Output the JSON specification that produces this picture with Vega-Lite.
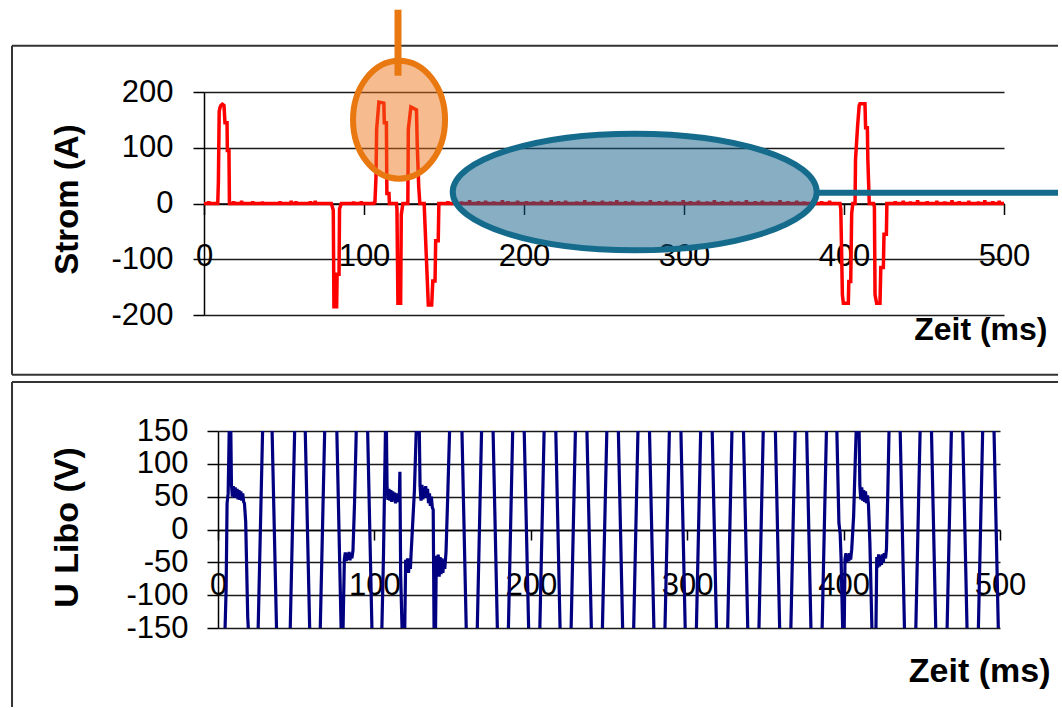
{
  "$schema": "https://vega.github.io/schema/vega-lite/v6.json",
  "background": "white",
  "padding": {"left": 11, "top": 6, "right": 0, "bottom": 0},
  "spacing": 5,
  "config": {
    "view": {"stroke": null},
    "font": "Liberation Sans",
    "axis": {
      "labelFont": "Liberation Sans",
      "titleFont": "Liberation Sans",
      "labelColor": "#000",
      "titleColor": "#000",
      "domainColor": "#000",
      "tickColor": "#000",
      "domainWidth": 1.5,
      "tickWidth": 1.5,
      "gridColor": "#1a1a1a",
      "gridWidth": 1.5,
      "gridOpacity": 1,
      "labelFlush": false,
      "labelOverlap": false,
      "labelExpr": "'' + datum.value"
    }
  },
  "datasets": {
    "strom": [
      {"t":0,"i":0},{"t":2.7,"i":0},{"t":3,"i":4},{"t":3.3,"i":0},{"t":8.6,"i":0},{"t":9,"i":40},{"t":9.5,"i":165},{"t":10,"i":172},{"t":10.6,"i":176},{"t":11.5,"i":178},{"t":12.5,"i":176},{"t":13.1,"i":145},{"t":14.4,"i":145},{"t":14.6,"i":95},{"t":15.6,"i":95},{"t":15.9,"i":0},
      {"t":18.2,"i":0},{"t":18.5,"i":4},{"t":18.8,"i":0},{"t":23.2,"i":0},{"t":23.5,"i":5},{"t":23.8,"i":0},{"t":30.2,"i":0},{"t":30.5,"i":4},{"t":30.8,"i":0},{"t":36.2,"i":0},{"t":36.5,"i":3},{"t":36.8,"i":0},{"t":47.2,"i":0},{"t":47.5,"i":4},{"t":47.8,"i":0},{"t":54.2,"i":0},{"t":54.5,"i":5},{"t":54.8,"i":0},{"t":57.2,"i":0},{"t":57.5,"i":4},{"t":57.8,"i":0},{"t":66.2,"i":0},{"t":66.5,"i":4},{"t":66.8,"i":0},{"t":69.2,"i":0},{"t":69.5,"i":5},{"t":69.8,"i":0},
      {"t":79.6,"i":0},{"t":80.8,"i":-12},{"t":81.2,"i":-185},{"t":82.9,"i":-185},{"t":83.2,"i":-127},{"t":84.4,"i":-127},{"t":84.7,"i":-10},{"t":85.8,"i":0},
      {"t":93.2,"i":0},{"t":93.5,"i":3},{"t":93.8,"i":0},{"t":98,"i":0},{"t":98.3,"i":4},{"t":98.6,"i":0},{"t":106.2,"i":0},{"t":106.5,"i":3},{"t":106.8,"i":0},
      {"t":107.5,"i":48},{"t":107.9,"i":133},{"t":109.3,"i":182},{"t":112.4,"i":180},{"t":112.7,"i":145},{"t":114,"i":145},{"t":114.3,"i":18},{"t":115.6,"i":18},{"t":115.9,"i":0},
      {"t":120.3,"i":0},{"t":120.6,"i":-10},{"t":121.2,"i":-179},{"t":122.9,"i":-179},{"t":123.3,"i":-20},{"t":124.3,"i":0},
      {"t":127.4,"i":0},{"t":127.7,"i":133},{"t":129.3,"i":173},{"t":132.8,"i":168},{"t":133.3,"i":103},{"t":134.2,"i":30},{"t":134.9,"i":0},
      {"t":137.6,"i":0},{"t":138.1,"i":-36},{"t":140.2,"i":-182},{"t":142.3,"i":-182},{"t":143,"i":-139},{"t":144.4,"i":-139},{"t":144.8,"i":-67},{"t":146.4,"i":-67},{"t":146.8,"i":0},
      {"t":152.2,"i":0},{"t":152.5,"i":4},{"t":152.8,"i":0},{"t":156.7,"i":0},{"t":157,"i":5},{"t":157.3,"i":0},{"t":160.7,"i":0},{"t":161,"i":3},{"t":161.3,"i":0},{"t":165.7,"i":0},{"t":166,"i":6},{"t":166.3,"i":0},{"t":171.2,"i":0},{"t":171.5,"i":4},{"t":171.8,"i":0},{"t":175.7,"i":0},{"t":176,"i":5},{"t":176.3,"i":0},{"t":180.7,"i":0},{"t":181,"i":3},{"t":181.3,"i":0},{"t":186.2,"i":0},{"t":186.5,"i":6},{"t":186.8,"i":0},{"t":189.7,"i":0},{"t":190,"i":4},{"t":190.3,"i":0},{"t":195.7,"i":0},{"t":196,"i":5},{"t":196.3,"i":0},
      {"t":201.2,"i":0},{"t":201.5,"i":4},{"t":201.8,"i":0},{"t":205.7,"i":0},{"t":206,"i":3},{"t":206.3,"i":0},{"t":210.7,"i":0},{"t":211,"i":5},{"t":211.3,"i":0},{"t":216.7,"i":0},{"t":217,"i":6},{"t":217.3,"i":0},{"t":221.2,"i":0},{"t":221.5,"i":4},{"t":221.8,"i":0},{"t":225.7,"i":0},{"t":226,"i":5},{"t":226.3,"i":0},{"t":232.7,"i":0},{"t":233,"i":3},{"t":233.3,"i":0},{"t":237.7,"i":0},{"t":238,"i":6},{"t":238.3,"i":0},{"t":243.2,"i":0},{"t":243.5,"i":4},{"t":243.8,"i":0},{"t":248.7,"i":0},{"t":249,"i":5},{"t":249.3,"i":0},
      {"t":253.7,"i":0},{"t":254,"i":3},{"t":254.3,"i":0},{"t":257.7,"i":0},{"t":258,"i":6},{"t":258.3,"i":0},{"t":263.2,"i":0},{"t":263.5,"i":4},{"t":263.8,"i":0},{"t":267.7,"i":0},{"t":268,"i":5},{"t":268.3,"i":0},{"t":273.7,"i":0},{"t":274,"i":3},{"t":274.3,"i":0},{"t":278.7,"i":0},{"t":279,"i":6},{"t":279.3,"i":0},{"t":284.2,"i":0},{"t":284.5,"i":4},{"t":284.8,"i":0},{"t":288.7,"i":0},{"t":289,"i":5},{"t":289.3,"i":0},{"t":293.7,"i":0},{"t":294,"i":3},{"t":294.3,"i":0},{"t":299.2,"i":0},{"t":299.5,"i":6},{"t":299.8,"i":0},
      {"t":303.7,"i":0},{"t":304,"i":4},{"t":304.3,"i":0},{"t":308.7,"i":0},{"t":309,"i":5},{"t":309.3,"i":0},{"t":314.2,"i":0},{"t":314.5,"i":3},{"t":314.8,"i":0},{"t":318.7,"i":0},{"t":319,"i":6},{"t":319.3,"i":0},{"t":323.7,"i":0},{"t":324,"i":4},{"t":324.3,"i":0},{"t":329.2,"i":0},{"t":329.5,"i":5},{"t":329.8,"i":0},{"t":333.7,"i":0},{"t":334,"i":3},{"t":334.3,"i":0},{"t":338.7,"i":0},{"t":339,"i":6},{"t":339.3,"i":0},{"t":344.2,"i":0},{"t":344.5,"i":4},{"t":344.8,"i":0},{"t":348.7,"i":0},{"t":349,"i":5},{"t":349.3,"i":0},
      {"t":354.2,"i":0},{"t":354.5,"i":3},{"t":354.8,"i":0},{"t":359.7,"i":0},{"t":360,"i":6},{"t":360.3,"i":0},{"t":364.7,"i":0},{"t":365,"i":4},{"t":365.3,"i":0},{"t":370.2,"i":0},{"t":370.5,"i":5},{"t":370.8,"i":0},{"t":374.7,"i":0},{"t":375,"i":3},{"t":375.3,"i":0},{"t":380.2,"i":0},{"t":380.5,"i":6},{"t":380.8,"i":0},{"t":385.7,"i":0},{"t":386,"i":4},{"t":386.3,"i":0},{"t":390.7,"i":0},{"t":391,"i":5},{"t":391.3,"i":0},
      {"t":397.5,"i":0},{"t":398,"i":-10},{"t":399,"i":-164},{"t":399.6,"i":-179},{"t":402.7,"i":-179},{"t":403,"i":-140},{"t":404.2,"i":-140},{"t":404.8,"i":-18},{"t":405.5,"i":0},
      {"t":406.9,"i":0},{"t":407.2,"i":79},{"t":408.5,"i":139},{"t":409.5,"i":176},{"t":410,"i":179},{"t":413.1,"i":179},{"t":413.5,"i":136},{"t":414.6,"i":136},{"t":414.9,"i":79},{"t":415.8,"i":0},
      {"t":418.5,"i":0},{"t":419,"i":-6},{"t":419.4,"i":-164},{"t":420.4,"i":-179},{"t":422.5,"i":-179},{"t":423,"i":-115},{"t":424.6,"i":-115},{"t":425,"i":-55},{"t":426.5,"i":-55},{"t":426.8,"i":0},
      {"t":431.7,"i":0},{"t":432,"i":4},{"t":432.3,"i":0},{"t":436.7,"i":0},{"t":437,"i":5},{"t":437.3,"i":0},{"t":441.2,"i":0},{"t":441.5,"i":3},{"t":441.8,"i":0},{"t":445.7,"i":0},{"t":446,"i":6},{"t":446.3,"i":0},{"t":451.7,"i":0},{"t":452,"i":4},{"t":452.3,"i":0},{"t":457.7,"i":0},{"t":458,"i":5},{"t":458.3,"i":0},{"t":462.7,"i":0},{"t":463,"i":3},{"t":463.3,"i":0},{"t":467.2,"i":0},{"t":467.5,"i":6},{"t":467.8,"i":0},{"t":471.7,"i":0},{"t":472,"i":4},{"t":472.3,"i":0},{"t":477.7,"i":0},{"t":478,"i":5},{"t":478.3,"i":0},{"t":483.7,"i":0},{"t":484,"i":3},{"t":484.3,"i":0},{"t":487.7,"i":0},{"t":488,"i":6},{"t":488.3,"i":0},{"t":492.7,"i":0},{"t":493,"i":4},{"t":493.3,"i":0},{"t":496.7,"i":0},{"t":497,"i":5},{"t":497.3,"i":0},{"t":500,"i":0}
    ],
    "spannung": [
      {"t":0,"u":-170},{"t":4.3,"u":-170},{"t":5.2,"u":-90},{"t":5.8,"u":40},{"t":6.5,"u":55},{"t":7.3,"u":170},{"t":8.1,"u":170},{"t":8.6,"u":68},{"t":9.2,"u":50},{"t":9.8,"u":66},{"t":10.4,"u":48},{"t":11,"u":64},{"t":11.6,"u":50},{"t":12.2,"u":62},{"t":12.8,"u":46},{"t":13.4,"u":60},{"t":14,"u":45},{"t":14.6,"u":58},{"t":15.2,"u":44},{"t":15.8,"u":55},{"t":16.4,"u":42},{"t":16.9,"u":40},{"t":17.7,"u":12},{"t":19,"u":-133},{"t":19.8,"u":-170},
      {"t":25.5,"u":-170},{"t":28.7,"u":170},{"t":34.4,"u":170},{"t":37.6,"u":-170},{"t":46,"u":-170},{"t":49.2,"u":170},{"t":55.6,"u":170},{"t":58.8,"u":-170},{"t":65.2,"u":-170},{"t":68.4,"u":170},{"t":75.8,"u":170},{"t":78.9,"u":-170},
      {"t":79.8,"u":-170},{"t":80.8,"u":-45},{"t":81.4,"u":-35},{"t":82,"u":-48},{"t":82.6,"u":-36},{"t":83.2,"u":-46},{"t":83.8,"u":-34},{"t":84.4,"u":-47},{"t":85,"u":-36},{"t":85.6,"u":-44},{"t":86.3,"u":-32},{"t":87.3,"u":40},{"t":88.6,"u":170},
      {"t":95.5,"u":170},{"t":98.6,"u":-170},
      {"t":104.6,"u":-170},{"t":105.8,"u":-40},{"t":107.2,"u":170},{"t":107.6,"u":170},{"t":108.1,"u":64},{"t":108.7,"u":45},{"t":109.3,"u":62},{"t":109.9,"u":44},{"t":110.5,"u":60},{"t":111.1,"u":42},{"t":111.7,"u":58},{"t":112.3,"u":44},{"t":112.9,"u":56},{"t":113.5,"u":40},{"t":114.1,"u":55},{"t":114.7,"u":42},{"t":115.3,"u":52},{"t":115.9,"u":45},{"t":116.3,"u":88},{"t":116.8,"u":-71},{"t":117.9,"u":-170},
      {"t":119.3,"u":-170},{"t":120,"u":-46},{"t":120.6,"u":-62},{"t":121.2,"u":-44},{"t":121.8,"u":-66},{"t":122.4,"u":-48},{"t":123,"u":-60},{"t":123.4,"u":-40},{"t":125.6,"u":60},{"t":127,"u":170},
      {"t":128.6,"u":170},{"t":129.2,"u":66},{"t":129.8,"u":44},{"t":130.4,"u":68},{"t":131,"u":46},{"t":131.6,"u":64},{"t":132.2,"u":48},{"t":132.8,"u":66},{"t":133.4,"u":50},{"t":134,"u":62},{"t":134.6,"u":40},{"t":135.2,"u":55},{"t":135.8,"u":36},{"t":136.4,"u":50},{"t":137,"u":34},{"t":137.6,"u":30},{"t":138.2,"u":-170},
      {"t":139,"u":-170},{"t":139.6,"u":-40},{"t":140.2,"u":-70},{"t":140.8,"u":-38},{"t":141.4,"u":-72},{"t":142,"u":-42},{"t":142.6,"u":-68},{"t":143.2,"u":-44},{"t":143.8,"u":-66},{"t":144.4,"u":-46},{"t":145,"u":-60},{"t":145.8,"u":-34},{"t":147,"u":60},{"t":148.3,"u":170},
      {"t":155.8,"u":170},{"t":158.9,"u":-170},{"t":165.6,"u":-170},{"t":168.7,"u":170},{"t":175.7,"u":170},{"t":178.8,"u":-170},{"t":185.5,"u":-170},{"t":188.6,"u":170},{"t":195.6,"u":170},{"t":198.8,"u":-170},
      {"t":205.6,"u":-170},{"t":208.7,"u":170},{"t":215.8,"u":170},{"t":218.9,"u":-170},{"t":225.6,"u":-170},{"t":228.7,"u":170},{"t":235.7,"u":170},{"t":238.9,"u":-170},{"t":245.6,"u":-170},{"t":248.8,"u":170},
      {"t":255.8,"u":170},{"t":258.9,"u":-170},{"t":265.6,"u":-170},{"t":268.7,"u":170},{"t":275.7,"u":170},{"t":278.9,"u":-170},{"t":285.6,"u":-170},{"t":288.8,"u":170},{"t":295.8,"u":170},{"t":298.9,"u":-170},
      {"t":305.7,"u":-170},{"t":308.8,"u":170},{"t":315.8,"u":170},{"t":318.9,"u":-170},{"t":325.7,"u":-170},{"t":328.8,"u":170},{"t":335.8,"u":170},{"t":338.9,"u":-170},{"t":345.7,"u":-170},{"t":348.8,"u":170},
      {"t":356.2,"u":170},{"t":359.3,"u":-170},{"t":366.1,"u":-170},{"t":369.2,"u":170},{"t":376.2,"u":170},{"t":379.3,"u":-170},{"t":386.1,"u":-170},{"t":389.2,"u":170},
      {"t":395.5,"u":170},{"t":397,"u":10},{"t":397.8,"u":-6},{"t":398.4,"u":-45},{"t":399,"u":-110},{"t":399.6,"u":-170},{"t":400.3,"u":-170},{"t":400.9,"u":-45},{"t":401.5,"u":-36},{"t":402.1,"u":-50},{"t":402.7,"u":-38},{"t":403.3,"u":-48},{"t":403.9,"u":-36},{"t":404.5,"u":-46},{"t":405.2,"u":-30},{"t":406.4,"u":20},{"t":407.4,"u":100},{"t":408.3,"u":170},
      {"t":409.8,"u":170},{"t":410.4,"u":66},{"t":411,"u":46},{"t":411.6,"u":64},{"t":412.2,"u":44},{"t":412.8,"u":60},{"t":413.4,"u":42},{"t":414,"u":58},{"t":414.6,"u":40},{"t":415.3,"u":52},{"t":415.9,"u":38},{"t":416.8,"u":-20},{"t":418.3,"u":-170},
      {"t":420.6,"u":-170},{"t":421.2,"u":-42},{"t":421.8,"u":-58},{"t":422.4,"u":-38},{"t":423,"u":-56},{"t":423.6,"u":-40},{"t":424.2,"u":-54},{"t":424.8,"u":-38},{"t":425.4,"u":-50},{"t":426,"u":-36},{"t":426.8,"u":-44},{"t":427.4,"u":-30},{"t":428.3,"u":60},{"t":429.2,"u":170},
      {"t":436,"u":170},{"t":439.1,"u":-170},{"t":446,"u":-170},{"t":449.1,"u":170},{"t":456,"u":170},{"t":459.1,"u":-170},{"t":466,"u":-170},{"t":469.1,"u":170},{"t":476,"u":170},{"t":479.1,"u":-170},{"t":486,"u":-170},{"t":489.1,"u":170},{"t":496,"u":170},{"t":499.1,"u":-170},{"t":500,"u":-170}
    ]
  },
  "vconcat": [
    {
      "width": 800,
      "height": 223,
      "layer": [
        {
          "data": {"name": "strom"},
          "mark": {"type": "line", "color": "#FF0000", "strokeWidth": 3.5, "strokeMiterLimit": 2},
          "encoding": {
            "x": {
              "field": "t", "type": "quantitative",
              "scale": {"domain": [0, 500], "nice": false, "zero": false},
              "axis": {
                "title": "Zeit (ms)", "values": [0, 100, 200, 300, 400, 500], "tickCount": 20, "grid": false,
                "offset": -111.5, "tickSize": 11,
                "labelFontSize": 31, "labelBaseline": "middle", "labelPadding": 42,
                "titleFontSize": 32, "titleFontWeight": "bold", "titleAlign": "right", "titleBaseline": "middle",
                "titleX": 843, "titleY": 126
              }
            },
            "y": {
              "field": "i", "type": "quantitative",
              "scale": {"domain": [-200, 200], "nice": false, "zero": false},
              "axis": {
                "title": "Strom (A)", "values": [-200, -100, 0, 100, 200], "tickCount": 10, "grid": true,
                "tickSize": 11, "labelFontSize": 31, "labelPadding": 20, "labelBaseline": "middle",
                "titleFontSize": 33, "titleFontWeight": "bold", "titleAngle": -90, "titleAlign": "center", "titleBaseline": "middle",
                "titleX": -137, "titleY": 107
              }
            }
          }
        },
        {
          "data": {"values": [{}]},
          "mark": {"type": "rule", "color": "#333333", "strokeWidth": 2},
          "encoding": {
            "x": {"datum": -120, "type": "quantitative"},
            "y": {"datum": 283, "type": "quantitative"},
            "y2": {"datum": -307.1}
          }
        },
        {
          "data": {"values": [{}]},
          "mark": {"type": "rule", "color": "#333333", "strokeWidth": 2},
          "encoding": {
            "x": {"datum": -120, "type": "quantitative"},
            "x2": {"datum": 533.75},
            "y": {"datum": 283, "type": "quantitative"}
          }
        },
        {
          "data": {"values": [{}]},
          "mark": {"type": "rule", "color": "#333333", "strokeWidth": 2},
          "encoding": {
            "x": {"datum": -120, "type": "quantitative"},
            "x2": {"datum": 533.75},
            "y": {"datum": -307.1, "type": "quantitative"}
          }
        },
        {
          "data": {"values": [{}]},
          "mark": {"type": "point", "shape": "M1,0C1,0.7084 0.5523,1.2826 0,1.2826C-0.5523,1.2826 -1,0.7084 -1,0C-1,-0.7084 -0.5523,-1.2826 0,-1.2826C0.5523,-1.2826 1,-0.7084 1,0Z", "size": 8464, "filled": true, "fill": "#EC7014", "fillOpacity": 0.48, "stroke": "#E8780F", "strokeWidth": 6, "strokeOpacity": 1, "opacity": 1},
          "encoding": {
            "x": {"datum": 121.9, "type": "quantitative"},
            "y": {"datum": 150.3, "type": "quantitative"}
          }
        },
        {
          "data": {"values": [{}]},
          "mark": {"type": "rule", "color": "#E8780F", "strokeWidth": 7},
          "encoding": {
            "x": {"datum": 121.25, "type": "quantitative"},
            "y": {"datum": 347.6, "type": "quantitative"},
            "y2": {"datum": 229.2}
          }
        },
        {
          "data": {"values": [{}]},
          "mark": {"type": "rule", "color": "#156B8C", "strokeWidth": 6},
          "encoding": {
            "x": {"datum": 382.9, "type": "quantitative"},
            "x2": {"datum": 533.75},
            "y": {"datum": 19.4, "type": "quantitative"}
          }
        },
        {
          "data": {"values": [{}]},
          "mark": {"type": "point", "shape": "M1,0C1,0.1769 0.5523,0.3203 0,0.3203C-0.5523,0.3203 -1,0.1769 -1,0C-1,-0.1769 -0.5523,-0.3203 0,-0.3203C0.5523,-0.3203 1,-0.1769 1,0Z", "size": 132496, "filled": true, "fill": "#0F5E87", "fillOpacity": 0.5, "stroke": "#156B8C", "strokeWidth": 6, "strokeOpacity": 1, "opacity": 1},
          "encoding": {
            "x": {"datum": 269.2, "type": "quantitative"},
            "y": {"datum": 20.6, "type": "quantitative"}
          }
        }
      ]
    },
    {
      "width": 796,
      "height": 197,
      "layer": [
        {
          "data": {"name": "spannung"},
          "mark": {"type": "line", "color": "#000080", "strokeWidth": 3.2, "strokeMiterLimit": 2, "clip": true},
          "encoding": {
            "x": {
              "field": "t", "type": "quantitative",
              "scale": {"domain": [0, 500], "range": [14, 796], "nice": false, "zero": false},
              "axis": {
                "title": "Zeit (ms)", "values": [0, 100, 200, 300, 400, 500], "tickCount": 20, "grid": false,
                "offset": -98, "tickSize": 10,
                "labelFontSize": 31, "labelBaseline": "middle", "labelPadding": 45,
                "titleFontSize": 34, "titleFontWeight": "bold", "titleAlign": "right", "titleBaseline": "middle",
                "titleX": 846, "titleY": 141
              }
            },
            "y": {
              "field": "u", "type": "quantitative",
              "scale": {"domain": [-150, 150], "nice": false, "zero": false},
              "axis": {
                "title": "U Libo (V)", "values": [-150, -100, -50, 0, 50, 100, 150], "tickCount": 14, "grid": true,
                "offset": -14, "tickSize": 11, "labelFontSize": 31, "labelPadding": 19, "labelBaseline": "middle",
                "titleFontSize": 34, "titleFontWeight": "bold", "titleAngle": -90, "titleAlign": "center", "titleBaseline": "middle",
                "titleX": -151, "titleY": 96
              }
            }
          }
        },
        {
          "data": {"values": [{}]},
          "mark": {"type": "rule", "color": "#333333", "strokeWidth": 2},
          "encoding": {
            "x": {"datum": -131.7, "type": "quantitative"},
            "y": {"datum": 224.6, "type": "quantitative"},
            "y2": {"datum": -270.3}
          }
        },
        {
          "data": {"values": [{}]},
          "mark": {"type": "rule", "color": "#333333", "strokeWidth": 2},
          "encoding": {
            "x": {"datum": -131.7, "type": "quantitative"},
            "x2": {"datum": 537.1},
            "y": {"datum": 224.6, "type": "quantitative"}
          }
        }
      ]
    }
  ]
}
